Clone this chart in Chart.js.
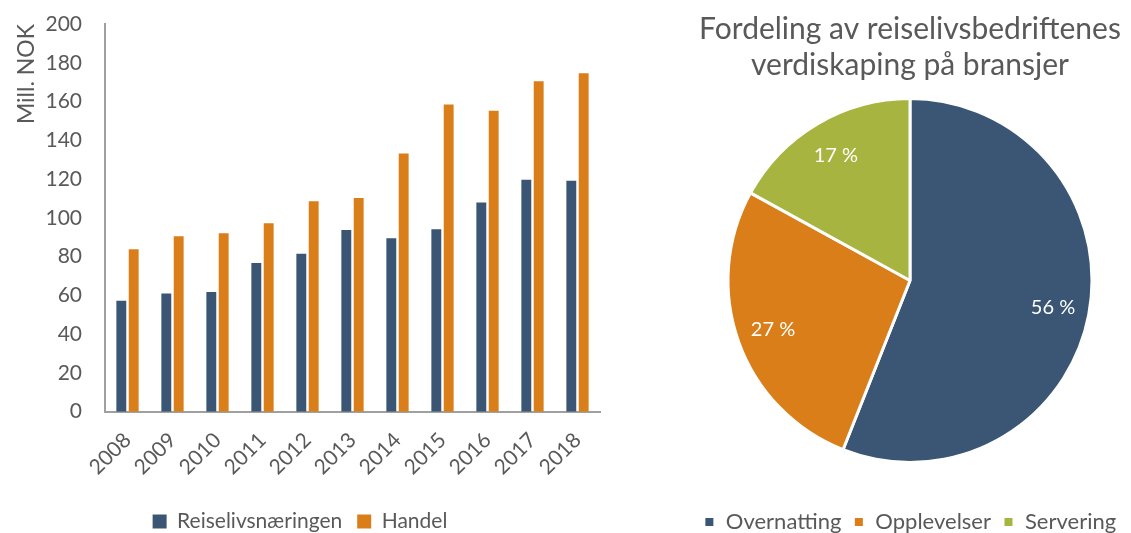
<!DOCTYPE html>
<html>
<head>
<meta charset="utf-8">
<script src="https://cdn.jsdelivr.net/npm/chart.js@4.4.1/dist/chart.umd.min.js"></script>
<style>
  body { margin: 0; background: #fff; width: 1131px; height: 533px; overflow: hidden; position: relative; }
  .box { position: absolute; top: 0; height: 533px; }
  #left { left: 0; width: 610px; }
  #right { left: 660px; width: 500px; }
</style>
</head>
<body>
<div class="box" id="left"><canvas id="barChart"></canvas></div>
<div class="box" id="right"><canvas id="pieChart"></canvas></div>
<script>
const years = ['2008', '2009', '2010', '2011', '2012', '2013', '2014', '2015', '2016', '2017', '2018'];
const reiseliv = [57.2, 61, 61.7, 76.7, 81.5, 93.8, 89.5, 94.1, 107.9, 119.7, 119.2];
const handel = [83.8, 90.5, 92, 97.2, 108.6, 110.2, 133.2, 158.5, 155.3, 170.5, 174.6];

const pieLabels = ['Overnatting', 'Opplevelser', 'Servering'];
const pieShares = [56, 27, 17];

const blue = '#3a5674';
const orange = '#d97e18';
const green = '#a7b43f';
const textGray = '#595959';
const fontName = 'Lato';

Chart.defaults.font.family = fontName;
Chart.defaults.color = textGray;
Chart.defaults.animation = false;
Chart.defaults.responsive = true;
Chart.defaults.maintainAspectRatio = false;

new Chart(document.getElementById('barChart'), {
  type: 'bar',
  data: {
    labels: years,
    datasets: [
      { label: 'Reiselivsnæringen', data: reiseliv, backgroundColor: blue },
      { label: 'Handel', data: handel, backgroundColor: orange }
    ]
  },
  options: {
    categoryPercentage: 0.55,
    barPercentage: 0.8,
    layout: { padding: { left: 0, right: 10, top: 24, bottom: -9 } },
    plugins: {
      tooltip: { enabled: false },
      legend: {
        position: 'bottom',
        labels: { boxWidth: 14, boxHeight: 14, padding: 15, font: { size: 21 }, color: textGray }
      }
    },
    scales: {
      x: {
        afterFit(scale) {
          scale.paddingLeft = 0;
          scale.paddingRight = 0;
        },
        grid: { display: false, drawTicks: false },
        border: { display: true, color: '#a0a0a0', width: 2 },
        ticks: { minRotation: 45, maxRotation: 45, font: { size: 21 }, color: textGray, padding: 16 }
      },
      y: {
        min: 0,
        max: 200,
        afterFit(scale) {
          scale.width = 105;
          scale.paddingTop = 0;
          scale.paddingBottom = 0;
        },
        grid: { display: false, drawTicks: false },
        border: { display: true, color: '#a0a0a0', width: 2 },
        ticks: { stepSize: 20, font: { size: 21 }, color: textGray, padding: 23 },
        title: { display: true, text: 'Mill. NOK', align: 'end', font: { size: 23 }, color: textGray, padding: { top: 13, bottom: 0 } }
      }
    }
  }
});

// white percentage labels inside the slices
const sliceLabels = {
  id: 'sliceLabels',
  afterDatasetsDraw(chart) {
    const ctx = chart.ctx;
    const meta = chart.getDatasetMeta(0);
    ctx.save();
    ctx.fillStyle = '#fff';
    ctx.font = '20px ' + fontName;
    ctx.textAlign = 'center';
    ctx.textBaseline = 'middle';
    meta.data.forEach((arc, i) => {
      const mid = (arc.startAngle + arc.endAngle) / 2;
      const r = arc.outerRadius * 0.8;
      ctx.fillText(pieShares[i] + ' %', arc.x + Math.cos(mid) * r, arc.y + Math.sin(mid) * r);
    });
    ctx.restore();
  }
};

new Chart(document.getElementById('pieChart'), {
  type: 'pie',
  data: {
    labels: pieLabels,
    datasets: [{
      data: pieShares,
      backgroundColor: [blue, orange, green],
      borderColor: '#fff',
      borderWidth: 3,
      radius: 182
    }]
  },
  options: {
    layout: { padding: { top: 0, bottom: -10 } },
    plugins: {
      tooltip: { enabled: false },
      title: {
        display: true,
        text: ['Fordeling av reiselivsbedriftenes', 'verdiskaping på bransjer'],
        font: { size: 30, weight: 'normal', lineHeight: 1.2 },
        color: textGray,
        padding: { top: 11, bottom: -21 }
      },
      legend: {
        position: 'bottom',
        labels: { boxWidth: 11, boxHeight: 11, padding: 12, font: { size: 22 }, color: textGray }
      }
    }
  },
  plugins: [sliceLabels]
});
</script>
</body>
</html>
